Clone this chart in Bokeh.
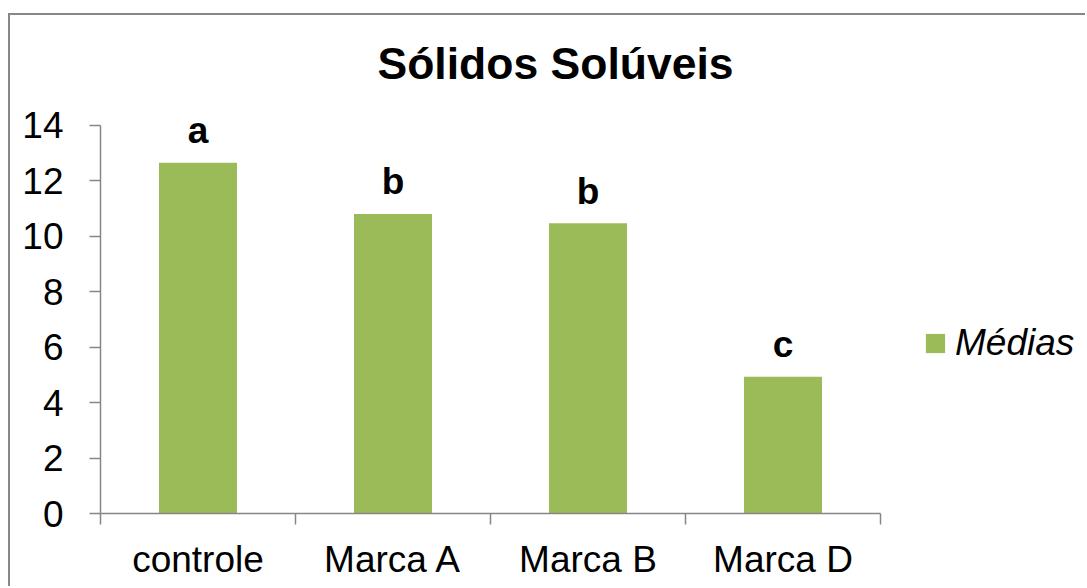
from bokeh.plotting import figure
from bokeh.models import (Range1d, FixedTicker, Legend, LegendItem, ColumnDataSource)
from bokeh.core.properties import value
from bokeh.embed import file_html
from bokeh.resources import INLINE

categories = ["controle", "Marca A", "Marca B", "Marca D"]
medias = [12.65, 10.8, 10.47, 4.93]
letters = ["a", "b", "b", "c"]
y_ticks = [0, 2, 4, 6, 8, 10, 12, 14]

BAR = "#9BBB59"
AXIS = "#868686"
FONT = "Liberation Sans"

n = len(categories)
xs = [i + 0.5 for i in range(n)]
src = ColumnDataSource(dict(x=xs, top=medias, label=letters))

W, H = 1077, 573
LEFT, TOP, BOTTOM = 90, 82, 75
frame_w = W - LEFT
x_end = n * frame_w / 780.0  # extra room on the right for the legend

p = figure(width=W, height=H, output_backend="svg", toolbar_location=None,
           x_range=Range1d(0, x_end), y_range=Range1d(0, 15),
           min_border_left=LEFT, min_border_right=0, min_border_top=TOP, min_border_bottom=BOTTOM,
           title="Sólidos Solúveis")
p.styles = {"margin-left": "8px", "margin-top": "13px",
            "border-left": "2px solid #878787", "border-top": "2px solid #878787"}
p.outline_line_color = None
p.grid.visible = False
p.background_fill_color = "white"
p.border_fill_color = "white"

p.title.align = "left"
p.title.offset = 277
p.title.text_font = FONT
p.title.text_font_size = "44.5px"
p.title.text_font_style = "bold"
p.title.text_color = "black"
p.title.standoff = 20

r = p.vbar(x="x", top="top", width=0.4, bottom=0, source=src, fill_color=BAR, line_color=None)
p.text(x="x", y="top", text="label", source=src, y_offset=-32, text_align="center",
       text_baseline="alphabetic", text_font=value(FONT), text_font_size="37px",
       text_font_style="bold", text_color="black")

ya = p.yaxis[0]
ya.bounds = (0, 14)
ya.ticker = FixedTicker(ticks=y_ticks)
ya.major_tick_out = 11
ya.major_tick_in = 0
ya.minor_tick_out = 0
ya.minor_tick_in = 0
ya.axis_line_color = AXIS
ya.axis_line_width = 1.5
ya.major_tick_line_color = AXIS
ya.major_tick_line_width = 1.5
ya.major_label_text_font = FONT
ya.major_label_text_font_size = "37px"
ya.major_label_text_color = "black"
ya.major_label_standoff = 26

xa = p.xaxis[0]
xa.bounds = (0, n)
xa.ticker = FixedTicker(ticks=xs, minor_ticks=list(range(n + 1)))
xa.major_label_overrides = {x: c for x, c in zip(xs, categories)}
xa.major_tick_out = 0
xa.major_tick_in = 0
xa.minor_tick_out = 11
xa.minor_tick_in = 0
xa.minor_tick_line_color = AXIS
xa.minor_tick_line_width = 1.5
xa.axis_line_color = AXIS
xa.axis_line_width = 1.5
xa.major_label_text_font = FONT
xa.major_label_text_font_size = "37px"
xa.major_label_text_color = "black"
xa.major_label_standoff = 14

legend = Legend(items=[LegendItem(label="Médias", renderers=[r])], location=(823, 149),
                orientation="vertical", padding=0, margin=0, spacing=0,
                glyph_width=24, glyph_height=24, label_standoff=8,
                label_text_font=FONT, label_text_font_size="37px",
                label_text_font_style="italic", label_text_color="black",
                border_line_color=None, background_fill_alpha=0)
p.add_layout(legend)

open("out.html", "w").write(file_html(p, INLINE))
